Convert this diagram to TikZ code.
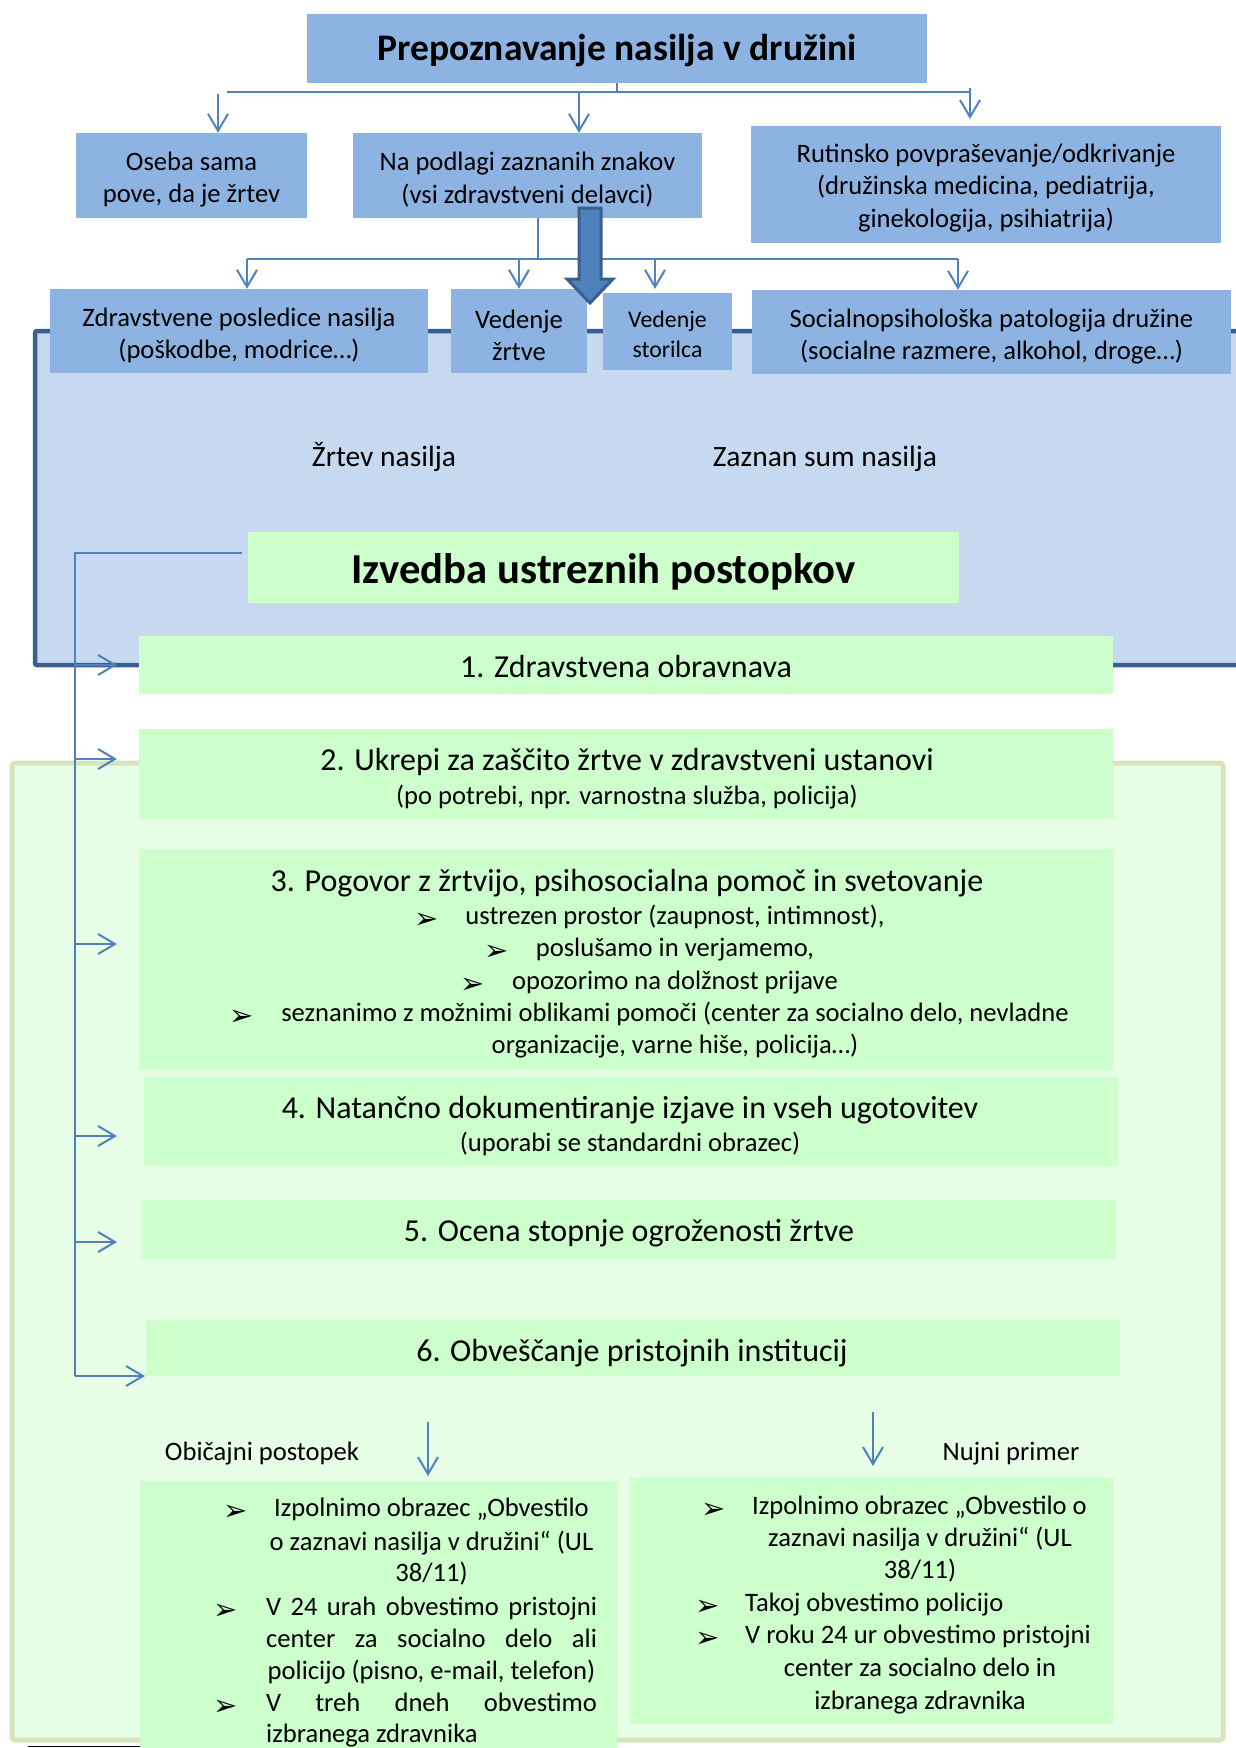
\documentclass[tikz,border=0pt]{standalone}
\usepackage{fontspec}
\setmainfont{Carlito}
\newfontfamily\dvsans{DejaVu Sans}
\usetikzlibrary{arrows.meta}
\definecolor{boxblue}{HTML}{8DB3E2}
\definecolor{panelblue}{HTML}{C6D9F1}
\definecolor{paneledge}{HTML}{3A5F8E}
\definecolor{linec}{HTML}{4F81BD}
\definecolor{boxgreen}{HTML}{CCFFCC}
\definecolor{panelgreen}{HTML}{E6FFE6}
\definecolor{greenedge}{HTML}{D7E4BD}
\newcommand\fb{\fontsize{26.6}{32.4}\selectfont}
\newcommand\fh{\fontsize{32}{39}\selectfont}
\newcommand\fm{\fontsize{29.5}{36}\selectfont}
\newcommand\fsm{\fontsize{23.8}{30}\selectfont}
\begin{document}
\begin{tikzpicture}[x=1pt,y=-1pt,
  bbox/.style={fill=boxblue, inner sep=0pt},
  gbox/.style={fill=boxgreen, inner sep=0pt},
  btxt/.style={inner sep=0pt, align=center, font=\fb},
  txt/.style={inner sep=0pt, anchor=mid, yshift=-6.5pt},
  conn/.style={draw=linec, line width=2pt},
  arr/.style={conn, -{Straight Barb[length=17pt,width=20pt,line width=2pt]}},
  bul/.style={inner sep=0pt, font=\dvsans\fontsize{29}{29}\selectfont, yshift=1.5pt},
]
\useasboundingbox (0,0) rectangle (1236,1748);
% panels
\draw[draw=greenedge, fill=panelgreen, line width=5pt, rounded corners=3pt] (12,763) rectangle (1223,1740);
\draw[draw=paneledge, fill=panelblue, line width=4.5pt, rounded corners=2pt] (35,331) rectangle (1262,665);
% top level
\node[bbox, minimum width=620pt, minimum height=69pt] (title) at (617,48.5) {};
\node[btxt, font=\bfseries\fontsize{37.5}{42}\selectfont] (titlet) at ([yshift=-2.5pt]title.center) {Prepoznavanje nasilja v družini};
\node[bbox, minimum width=231pt, minimum height=85pt] (oseba) at (191.5,175.5) {};
\node[btxt] (osebat) at ([yshift=-4pt]oseba.center) {Oseba sama\\pove, da je žrtev};
\node[bbox, minimum width=349pt, minimum height=85pt] (podlaga) at (527.5,175.5) {};
\node[btxt] (podlagat) at ([yshift=-4pt]podlaga.center) {Na podlagi zaznanih znakov\\(vsi zdravstveni delavci)};
\node[bbox, minimum width=470pt, minimum height=117pt] (rutina) at (986,184.5) {};
\node[btxt] (rutinat) at ([yshift=-3.5pt]rutina.center) {Rutinsko povpraševanje/odkrivanje\\(družinska medicina, pediatrija,\\ginekologija, psihiatrija)};
\node[bbox, minimum width=378pt, minimum height=84pt] (posl) at (239,331) {};
\node[btxt] (poslt) at ([yshift=-4.5pt]posl.center) {Zdravstvene posledice nasilja\\(poškodbe, modrice…)};
\node[bbox, minimum width=136pt, minimum height=84pt] (vz) at (519,331) {};
\node[btxt] (vzt) at ([yshift=-4.5pt]vz.center) {Vedenje\\žrtve};
\node[bbox, minimum width=129pt, minimum height=77pt] (vs) at (667.5,331.5) {};
\node[btxt, font=\fsm] (vst) at ([yshift=-2.5pt]vs.center) {Vedenje\\storilca};
\node[bbox, minimum width=479pt, minimum height=84pt] (soc) at (991.5,332) {};
\node[btxt] (soct) at ([yshift=-4.5pt]soc.center) {Socialnopsihološka patologija družine\\(socialne razmere, alkohol, droge…)};
% panel texts
\node[txt, font=\fm] (zrtev) at (384,458) {Žrtev nasilja};
\node[txt, font=\fm] (sum) at (825,458) {Zaznan sum nasilja};
\node[gbox, minimum width=711pt, minimum height=71pt] (izv) at (603.5,567.5) {};
\node[btxt, font=\bfseries\fontsize{42.7}{48}\selectfont] (izvt) at ([yshift=-4pt]izv.center) {Izvedba ustreznih postopkov};
% green boxes
\node[gbox, minimum width=974pt, minimum height=58pt] (b1) at (626,665) {};
\node[txt, font=\fh] (b1a) at (626,669) {1. Zdravstvena obravnava};
\node[gbox, minimum width=974pt, minimum height=90pt] (b2) at (626,774) {};
\node[txt, font=\fh] (b2a) at (627,762) {2. Ukrepi za zaščito žrtve v zdravstveni ustanovi};
\node[txt, font=\fb] (b2b) at (627,796) {(po potrebi, npr. varnostna služba, policija)};
\node[gbox, minimum width=974pt, minimum height=221pt] (b3) at (626,959.5) {};
\node[txt, font=\fh] (b3a) at (627,883) {3. Pogovor z žrtvijo, psihosocialna pomoč in svetovanje};
\node[txt, font=\fb] (b3b) at (675,916) {ustrezen prostor (zaupnost, intimnost),};
\node[txt, font=\fb] (b3c) at (675,948) {poslušamo in verjamemo,};
\node[txt, font=\fb] (b3d) at (675,981) {opozorimo na dolžnost prijave};
\node[txt, font=\fb] (b3e) at (675,1013) {seznanimo z možnimi oblikami pomoči (center za socialno delo, nevladne};
\node[txt, font=\fb] (b3f) at (675,1045) {organizacije, varne hiše, policija…)};
\foreach \n in {b3b,b3c,b3d,b3e} \node[bul] at ([xshift=-39pt]\n.mid west) {➢};
\node[gbox, minimum width=974pt, minimum height=89pt] (b4) at (631,1121.5) {};
\node[txt, font=\fh] (b4a) at (630,1110) {4. Natančno dokumentiranje izjave in vseh ugotovitev};
\node[txt, font=\fb] (b4b) at (630,1143) {(uporabi se standardni obrazec)};
\node[gbox, minimum width=974pt, minimum height=59pt] (b5) at (629,1229.5) {};
\node[txt, font=\fh] (b5a) at (629,1233) {5. Ocena stopnje ogroženosti žrtve};
\node[gbox, minimum width=974pt, minimum height=56pt] (b6) at (633,1348) {};
\node[txt, font=\fh] (b6a) at (632,1353) {6. Obveščanje pristojnih institucij};
% bottom
\node[txt, font=\fb] (obic) at (262,1452) {Običajni postopek};
\node[txt, font=\fb] (nujni) at (1011,1452) {Nujni primer};
\node[gbox, minimum width=477pt, minimum height=279pt] (lb) at (378.5,1620.5) {};
\node[gbox, minimum width=483pt, minimum height=247pt] (rb) at (871.5,1600.5) {};
\node[txt, font=\fb] (l1) at (431.5,1508) {Izpolnimo obrazec „Obvestilo};
\node[txt, font=\fb] (l2) at (431.5,1542) {o zaznavi nasilja v družini“ (UL};
\node[txt, font=\fb] (l3) at (431.5,1573) {38/11)};
\node[txt, font=\fb] (l4) at (431.5,1607) {\hbox to 331pt{V\hfill 24\hfill urah\hfill obvestimo\hfill pristojni}};
\node[txt, font=\fb] (l5) at (431.5,1639) {\hbox to 331pt{center\hfill za\hfill socialno\hfill delo\hfill ali}};
\node[txt, font=\fb] (l6) at (431.5,1671) {policijo (pisno, e-mail, telefon)};
\node[txt, font=\fb] (l7) at (431.5,1703) {\hbox to 331pt{V\hfill treh\hfill dneh\hfill obvestimo}};
\node[txt, font=\fb, anchor=mid west] (l8) at (266,1734) {izbranega zdravnika};
\node[bul] at ([xshift=-38pt]l1.mid west) {➢};
\node[bul] at ([xshift=-40pt]l4.mid west) {➢};
\node[bul] at ([xshift=-40pt]l7.mid west) {➢};
\node[txt, font=\fb] (r1) at (919.5,1506) {Izpolnimo obrazec „Obvestilo o};
\node[txt, font=\fb] (r2) at (920,1538) {zaznavi nasilja v družini“ (UL};
\node[txt, font=\fb] (r3) at (920,1570) {38/11)};
\node[txt, font=\fb, anchor=mid west] (r4) at (745,1603) {Takoj obvestimo policijo};
\node[txt, font=\fb, anchor=mid west] (r5) at (745,1635) {V roku 24 ur obvestimo pristojni};
\node[txt, font=\fb] (r6) at (920,1668) {center za socialno delo in};
\node[txt, font=\fb] (r7) at (920,1701) {izbranega zdravnika};
\node[bul] at ([xshift=-38pt]r1.mid west) {➢};
\node[bul] at ([xshift=-37pt]r4.mid west) {➢};
\node[bul] at ([xshift=-37pt]r5.mid west) {➢};
\draw[line width=1.5pt] (28,1746.5) -- (lb.south west |- 0,1746.5);
% connectors top
\coordinate (h1) at (227,92);
\coordinate (h2) at (970,92);
\draw[conn] (title.south) -- (title.south |- h1);
\draw[conn] (h1) -- (h2);
\coordinate (a1) at (218,94);
\draw[arr] (a1) -- (a1 |- oseba.north);
\coordinate (a2) at (579,92);
\draw[arr] (a2) -- (a2 |- podlaga.north);
\coordinate (a3) at (970,88);
\coordinate (a3e) at (970,119);
\draw[arr] (a3) -- (a3e);
\coordinate (v1) at (538,259);
\draw[conn] (podlaga.south -| v1) -- (v1);
\coordinate (g1) at (247,259);
\coordinate (g2) at (958,259);
\coordinate (g3) at (519,259);
\coordinate (g4) at (655,259);
\draw[conn] (g1) -- (g2);
\draw[arr] (g1) -- (g1 |- posl.north);
\draw[arr] (g3) -- (g3 |- vz.north);
\draw[arr] (g4) -- (g4 |- vz.north);
\draw[arr] (g2) -- (g2 |- soc.north);
% big block arrow
\draw[draw=paneledge, fill=linec, line width=3pt, line join=miter]
  (579,208) -- (601,208) -- (601,279) -- (613,279) -- (590,303) -- (567,279) -- (579,279) -- cycle;
% left connector
\coordinate (L0) at (242,553);
\coordinate (Lc) at (75,553);
\coordinate (Le) at (75,1376);
\draw[conn] (L0) -- (Lc) -- (Le);
\foreach \yy/\nm in {665/k1,759/k2,944/k3,1136/k4,1242/k5} {
  \coordinate (\nm s) at (75,\yy);
  \coordinate (\nm e) at (117,\yy);
  \draw[arr] (\nm s) -- (\nm e);
}
\coordinate (k6e) at (145,1376);
\draw[arr] (Le) -- (k6e);
% bottom arrows
\coordinate (d1) at (428,1422);
\coordinate (d2) at (873,1412);
\draw[arr] (d1) -- (d1 |- 0,1476);
\draw[arr] (d2) -- (d2 |- 0,1466);
\end{tikzpicture}
\end{document}
